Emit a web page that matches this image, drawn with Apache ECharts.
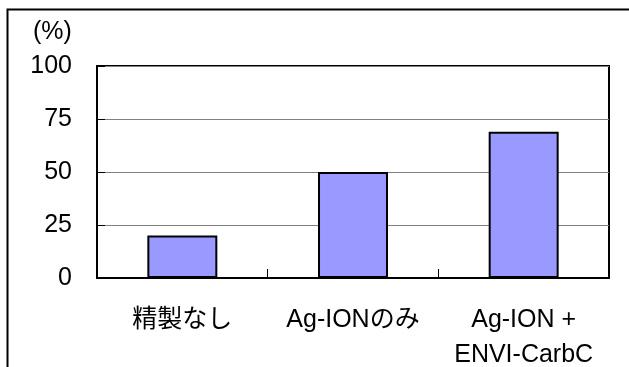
<!DOCTYPE html>
<html>
<head>
<meta charset="utf-8">
<script src="https://cdn.jsdelivr.net/npm/echarts@6/dist/echarts.min.js"></script>
<style>
html,body{margin:0;padding:0;background:#fff;}
#c{width:629px;height:367px;}
</style>
</head>
<body>
<div id="c"></div>
<script>
var categories = ['精製なし', 'Ag-IONのみ', 'Ag-ION +\nENVI-CarbC'];
var values = [20, 50, 69];
var yTicks = [0, 25, 50, 75, 100];
var unitLabel = '(%)';

var font = "'Liberation Sans', 'Noto Sans CJK JP', sans-serif";
var chart = echarts.init(document.getElementById('c'), null, {renderer: 'canvas'});
chart.setOption({
  animation: false,
  backgroundColor: '#ffffff',
  graphic: [
    {type: 'rect', shape: {x: 7.5, y: 9.5, width: 700, height: 500},
     style: {fill: 'none', stroke: '#000', lineWidth: 2}, z: 100},
    {type: 'text', left: 33, top: 20,
     style: {text: unitLabel, font: '25px ' + font, fill: '#000'}}
  ],
  grid: {left: 97, top: 66, right: 20, bottom: 89, show: true,
         outerBoundsMode: 'none', containLabel: false,
         borderColor: '#000', borderWidth: 2, backgroundColor: 'transparent'},
  xAxis: {
    type: 'category',
    data: categories,
    axisLine: {show: true, lineStyle: {color: '#000', width: 2}},
    axisTick: {show: true, inside: true, length: 9, lineStyle: {color: '#000', width: 1}},
    axisLabel: {color: '#000', fontSize: 25, fontFamily: font, margin: 25, lineHeight: 35, interval: 0},
    splitLine: {show: false}
  },
  yAxis: {
    type: 'value',
    min: yTicks[0], max: yTicks[yTicks.length - 1], interval: 25,
    axisLine: {show: true, lineStyle: {color: '#000', width: 2}},
    axisTick: {show: true, inside: true, length: 8, lineStyle: {color: '#000', width: 1}},
    axisLabel: {color: '#000', fontSize: 25, fontFamily: font, margin: 25},
    splitLine: {show: true, lineStyle: {color: '#808080', width: 1}}
  },
  series: [{
    type: 'bar',
    data: values,
    barWidth: '41%',
    itemStyle: {color: '#9999ff', borderColor: '#000', borderWidth: 2}
  }]
});
</script>
</body>
</html>
